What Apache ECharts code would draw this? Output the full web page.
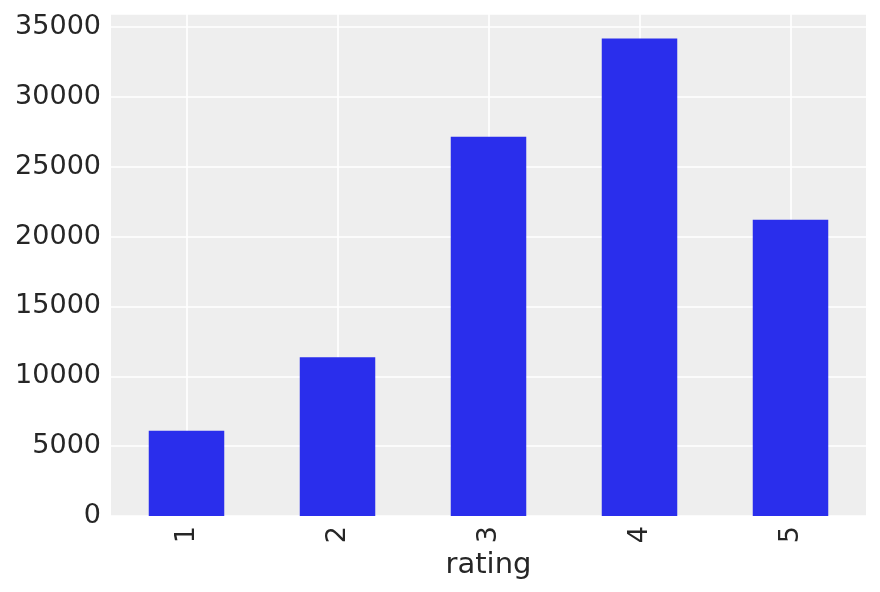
<!DOCTYPE html>
<html><head><meta charset="utf-8">
<script src="https://cdn.jsdelivr.net/npm/echarts@6/dist/echarts.min.js"></script>
<style>html,body{margin:0;padding:0;background:#fff}#c{width:880px;height:592px}</style>
</head><body><div id="c"></div>
<script>
const categories = ['1', '2', '3', '4', '5'];
const counts = [6110, 11370, 27145, 34174, 21201];
const axisName = 'rating';

const chart = echarts.init(document.getElementById('c'), null, {renderer: 'canvas'});
const font = 'DejaVu Sans';
chart.setOption({
  animation: false,
  backgroundColor: '#ffffff',
  grid: {left: 111, right: 14, top: 14, bottom: 76, show: true, backgroundColor: '#eeeeee', borderWidth: 0},
  xAxis: {
    type: 'category', data: categories,
    name: axisName, nameLocation: 'middle', nameGap: 32,
    nameTextStyle: {fontFamily: font, fontSize: 29, color: '#262626'},
    axisLine: {show: false}, axisTick: {show: false},
    axisLabel: {rotate: 90, fontFamily: font, fontSize: 27, color: '#262626', margin: 10},
    splitLine: {show: false}
  },
  yAxis: {
    type: 'value', min: 0, max: 35930, interval: 5000,
    axisLine: {show: false}, axisTick: {show: false},
    axisLabel: {fontFamily: font, fontSize: 27, color: '#262626', margin: 10, showMaxLabel: false,
      formatter: v => String(v)},
    splitLine: {show: true, lineStyle: {color: '#ffffff', width: 1.6}}
  },
  series: [{
    type: 'line', data: [], silent: true, z: 1,
    markLine: {
      z: 1, silent: true, symbol: ['none', 'none'], label: {show: false},
      lineStyle: {color: '#ffffff', width: 1.6, type: 'solid'},
      data: categories.map(c => ({xAxis: c}))
    }
  }, {
    type: 'bar', data: counts, barWidth: '50%', z: 3,
    itemStyle: {color: '#2a2eec'}
  }]
});
</script></body></html>
